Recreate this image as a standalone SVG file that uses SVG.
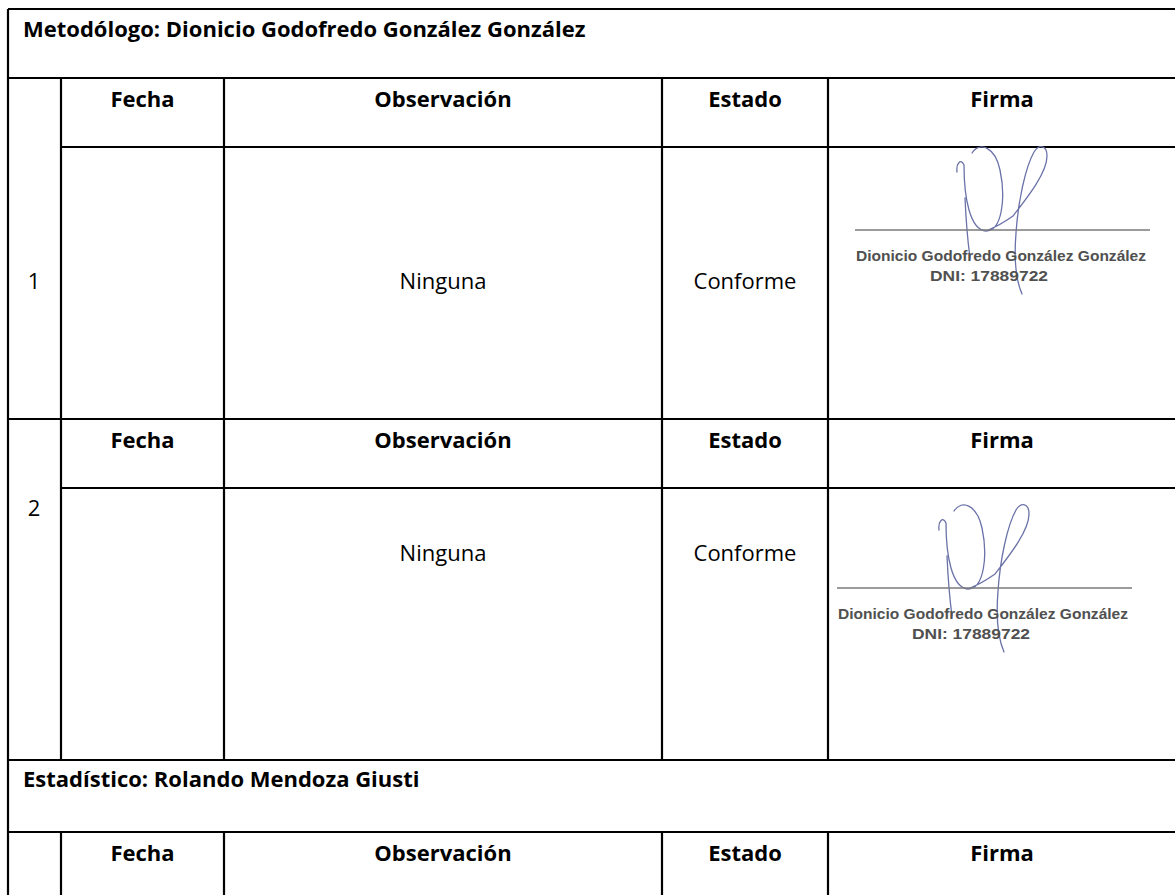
<svg xmlns="http://www.w3.org/2000/svg" width="1175" height="895" viewBox="0 0 1175 895">
<style>
.t{font-family:"Open Sans","Liberation Sans",sans-serif;font-size:22px;fill:#000}
.b{font-weight:bold}
.c{text-anchor:middle}
.ln{stroke:#000;stroke-width:2.2;fill:none}
.sg{stroke:#6a72a8;stroke-width:1.3;fill:none;stroke-linecap:round}
.sn{font-family:"Liberation Sans",Arial,sans-serif;font-weight:bold;font-size:15px;fill:#505050}
</style>
<defs>
<g id="sig">
<path class="sg" d="M957 172 C956 163 961 158 964 165 C964 198 970 230 986 231 C1002 231 1006 198 1000 170 C995 147 980 141 972 153 M965 198 C966 220 968 243 970 258 M986 231 C996 227 1006 221 1013 216 C1027 198 1047 173 1047 156 C1047 145 1039 144 1034 152 C1025 168 1018 203 1016 233 C1014 258 1015 278 1022 294"/>
<line x1="855" y1="230" x2="1150" y2="230" stroke="#7a7a7a" stroke-width="1.5"/>
<text class="sn" x="856" y="261" textLength="290" lengthAdjust="spacingAndGlyphs">Dionicio Godofredo González González</text>
<text class="sn" x="930" y="281" textLength="118" lengthAdjust="spacingAndGlyphs">DNI: 17889722</text>
</g>
</defs>
<rect width="1175" height="895" fill="#fff"/>
<g id="connectors">
<path class="ln" d="M8 9 H1176 M8 78 H1176 M61 147 H1176 M8 419 H1176 M61 488 H1176 M8 760 H1176 M8 832 H1176 M8 9 V895 M61 78 V760 M224 78 V760 M662 78 V760 M828 78 V760 M61 832 V895 M224 832 V895 M662 832 V895 M828 832 V895"/>
</g>
<g id="title1"><text class="t b" x="23" y="37">Metodólogo: Dionicio Godofredo González González</text></g>
<g id="hdr1">
<text class="t b c" x="142.5" y="107">Fecha</text>
<text class="t b c" x="443" y="107">Observación</text>
<text class="t b c" x="745" y="107">Estado</text>
<text class="t b c" x="1002" y="107">Firma</text>
</g>
<g id="row1">
<text class="t c" x="34" y="289">1</text>
<text class="t c" x="443" y="289">Ninguna</text>
<text class="t c" x="745" y="289">Conforme</text>
<use href="#sig"/>
</g>
<g id="hdr2">
<text class="t b c" x="142.5" y="448">Fecha</text>
<text class="t b c" x="443" y="448">Observación</text>
<text class="t b c" x="745" y="448">Estado</text>
<text class="t b c" x="1002" y="448">Firma</text>
</g>
<g id="row2">
<text class="t c" x="34" y="516">2</text>
<text class="t c" x="443" y="561">Ninguna</text>
<text class="t c" x="745" y="561">Conforme</text>
<use href="#sig" transform="translate(-18,358)"/>
</g>
<g id="title2"><text class="t b" x="23" y="787">Estadístico: Rolando Mendoza Giusti</text></g>
<g id="hdr3">
<text class="t b c" x="142.5" y="861">Fecha</text>
<text class="t b c" x="443" y="861">Observación</text>
<text class="t b c" x="745" y="861">Estado</text>
<text class="t b c" x="1002" y="861">Firma</text>
</g>
</svg>
